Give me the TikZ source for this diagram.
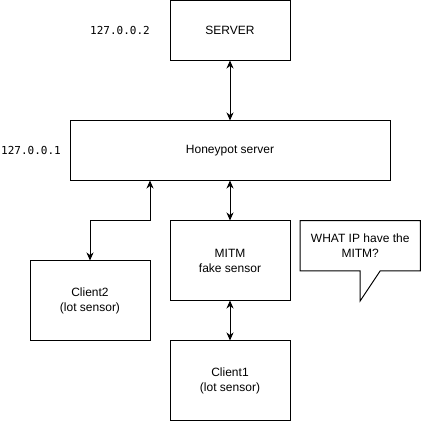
\documentclass[tikz,border=0pt]{standalone}
\usepackage{fontspec}
\setmainfont{Liberation Sans}
\newfontfamily\ipfont{DejaVu Sans Mono}
\usepackage{tikz}
\usetikzlibrary{arrows.meta,positioning}

\begin{document}
\begin{tikzpicture}[
    box/.style={draw, line width=1pt, inner sep=0pt, outer sep=0pt,
                minimum width=120pt, minimum height=#1, align=center,
                font=\fontsize{12}{15}\selectfont},
    box/.default=80pt,
    arr/.style={{Stealth[length=8pt,width=7pt,inset=2.5pt]}-{Stealth[length=8pt,width=7pt,inset=2.5pt]}, line width=1pt},
    ip/.style={inner sep=0pt, font=\ipfont\fontsize{11}{13}\selectfont}
  ]
    \useasboundingbox (0,0) rectangle (421pt,-422pt);

    % Servers
    \node[box=60pt] (server) at (230pt,-30.5pt) {SERVER};
    \node[box=60pt, minimum width=320pt, below=60pt of server] (honeypot) {Honeypot server};

    % Sensors
    \node[box, below=40pt of honeypot] (mitm) {MITM\\fake sensor};
    \node[box, below=40pt of mitm] (client1) {Client1\\(lot sensor)};
    \node[box, left=20pt of mitm, yshift=-40pt] (client2) {Client2\\(lot sensor)};

    % Addresses
    \node[ip, left=20pt of server] (ipserver) {127.0.0.2};
    \node[ip, left=9pt of honeypot] (iphoneypot) {127.0.0.1};

    % Question
    \node[minimum width=120pt, minimum height=50pt, inner sep=0pt, align=center,
          font=\fontsize{12}{15}\selectfont,
          right=10pt of mitm.north east, anchor=north west] (question) {WHAT IP have the\\MITM?};
    \draw[line width=1pt, line join=miter] (question.north west) -- (question.north east)
      -- (question.south east) -- ([xshift=20pt]question.south)
      -- ([yshift=-30pt]question.south) -- (question.south)
      -- (question.south west) -- cycle;

    % Arrows
    \draw[arr] (server) -- (honeypot);
    \draw[arr] (honeypot) -- (mitm);
    \draw[arr] (mitm) -- (client1);
    \draw[arr] (client2.north) -- ++(0,40pt) -| ([xshift=-80pt]honeypot.south);
  \end{tikzpicture}
\end{document}
